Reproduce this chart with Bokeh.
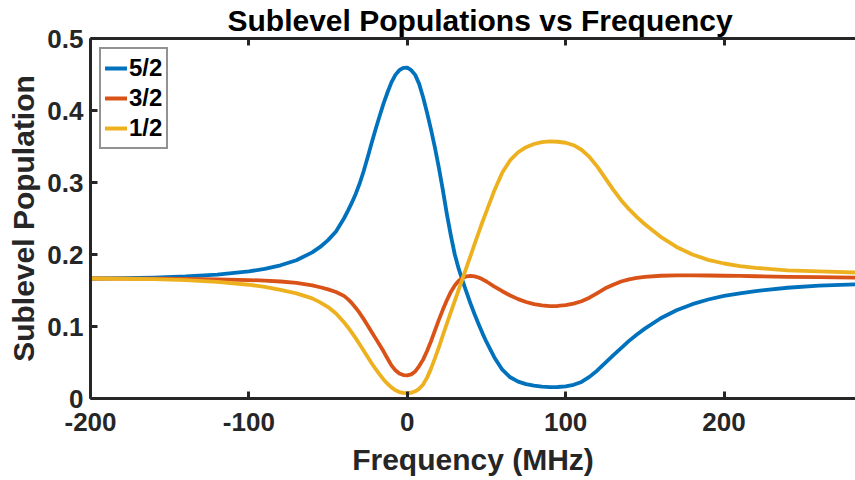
from bokeh.plotting import figure
from bokeh.models import (LinearAxis, Legend, LegendItem, FixedTicker, Title,
                          CustomLabelingPolicy)
from bokeh.embed import file_html
from bokeh.resources import INLINE

# ---- data ----
freq = [-200, -180, -160, -140, -120, -100, -90, -80, -70, -60, -55, -50, -45,
        -40, -37.5, -35, -32.5, -30, -27.5, -25, -22.5, -20, -17.5, -15, -12.5, -10,
        -7.5, -5, -2.5, 0, 2.5, 5, 7.5, 10, 12.5, 15, 17.5, 20, 22.5, 25, 27.5, 30,
        32.5, 35, 37.5, 40, 42.5, 45, 47.5, 50,
        55, 60, 65, 70, 75, 80, 85, 90, 95, 100, 105, 110, 115, 120, 125, 130, 135,
        140, 145, 150,
        160, 170, 180, 190, 200, 210, 220, 240, 260, 283]

pop_52 = [0.1667, 0.1672, 0.1680, 0.1695, 0.1720, 0.1765, 0.1800, 0.1850, 0.1920, 0.2030,
          0.2105, 0.2200, 0.2320,
          0.2500, 0.2605, 0.2720, 0.2845, 0.2990, 0.3160, 0.3350, 0.3550, 0.3740, 0.3920,
          0.4095, 0.4250, 0.4390, 0.4495, 0.4560, 0.4593, 0.4595, 0.4560, 0.4495, 0.4370,
          0.4185, 0.3970, 0.3735, 0.3480, 0.3200, 0.2890, 0.2560, 0.2265, 0.2000, 0.1800,
          0.1630, 0.1470, 0.1315, 0.1170, 0.1035, 0.0905, 0.0785,
          0.0570, 0.0400, 0.0295, 0.0235, 0.0200, 0.0180, 0.0165, 0.0158, 0.0160, 0.0168,
          0.0190, 0.0230, 0.0300, 0.0390, 0.0495, 0.0600, 0.0700, 0.0800, 0.0890, 0.0970,
          0.1115, 0.1225, 0.1310, 0.1375, 0.1425, 0.1460, 0.1492, 0.1538, 0.1568, 0.1585]

pop_32 = [0.1667, 0.1665, 0.1663, 0.1660, 0.1655, 0.1645, 0.1638, 0.1625, 0.1605, 0.1570,
          0.1545, 0.1515, 0.1480,
          0.1425, 0.1380, 0.1325, 0.1258, 0.1185, 0.1102, 0.1015, 0.0925, 0.0835, 0.0745,
          0.0655, 0.0555, 0.0460, 0.0393, 0.0348, 0.0325, 0.0322, 0.0335, 0.0375, 0.0450,
          0.0540, 0.0660, 0.0795, 0.0945, 0.1095, 0.1235, 0.1365, 0.1480, 0.1570, 0.1635,
          0.1675, 0.1697, 0.1703, 0.1697, 0.1680, 0.1655, 0.1625,
          0.1555, 0.1490, 0.1430, 0.1380, 0.1340, 0.1310, 0.1292, 0.1283, 0.1285, 0.1297,
          0.1318, 0.1350, 0.1400, 0.1465, 0.1530, 0.1580, 0.1625, 0.1655, 0.1675, 0.1690,
          0.1705, 0.1710, 0.1710, 0.1708, 0.1705, 0.1702, 0.1698, 0.1690, 0.1685, 0.1680]

pop_12 = [0.1667, 0.1663, 0.1657, 0.1645, 0.1620, 0.1580, 0.1550, 0.1510, 0.1460, 0.1390,
          0.1335, 0.1270, 0.1180,
          0.1060, 0.0990, 0.0915, 0.0835, 0.0750, 0.0663, 0.0575, 0.0490, 0.0410, 0.0335,
          0.0265, 0.0205, 0.0155, 0.0115, 0.0090, 0.0078, 0.0074, 0.0080, 0.0100, 0.0135,
          0.0195, 0.0290, 0.0415, 0.0560, 0.0715, 0.0880, 0.1040, 0.1200, 0.1355, 0.1512,
          0.1670, 0.1828, 0.1985, 0.2143, 0.2300, 0.2455, 0.2600,
          0.2890, 0.3140, 0.3310, 0.3420, 0.3490, 0.3535, 0.3560, 0.3570, 0.3566, 0.3552,
          0.3518, 0.3455, 0.3355, 0.3220, 0.3060, 0.2900, 0.2755, 0.2630, 0.2520, 0.2420,
          0.2245, 0.2105, 0.2000, 0.1925, 0.1875, 0.1840, 0.1815, 0.1780, 0.1765, 0.1750]

series_names = ["5/2", "3/2", "1/2"]
series_colors = ["#0072BD", "#D95319", "#EDB120"]

x_ticks = [-200, -100, 0, 100, 200]
x_tick_labels = {-200: "-200", -100: "-100", 0: "0", 100: "100", 200: "200"}
y_ticks = [0, 0.1, 0.2, 0.3, 0.4, 0.5]
y_tick_labels = {0: "0", 0.1: "0.1", 0.2: "0.2", 0.3: "0.3", 0.4: "0.4", 0.5: "0.5"}

FONT = "Liberation Sans"
AX = "#262626"

p = figure(width=855, height=480, x_range=(-200, 283), y_range=(0, 0.5),
           output_backend="svg", toolbar_location=None,
           min_border_left=90, min_border_right=0, min_border_top=38, min_border_bottom=82,
           x_axis_location=None, y_axis_location=None, title=None)
p.outline_line_color = None
p.xgrid.visible = False
p.ygrid.visible = False
p.background_fill_color = "white"
p.border_fill_color = "white"

renderers = []
for vals, col in zip([pop_52, pop_32, pop_12], series_colors):
    r = p.line(freq, vals, line_color=col, line_width=3.8, line_join="round", line_cap="round")
    renderers.append(r)

def style_axis(ax):
    ax.axis_line_color = AX
    ax.axis_line_width = 3
    ax.major_tick_line_color = AX
    ax.major_tick_line_width = 3
    ax.major_tick_in = 7
    ax.major_tick_out = 0
    ax.minor_tick_line_color = None
    ax.major_label_text_font = FONT
    ax.major_label_text_font_style = "bold"
    ax.major_label_text_font_size = "26px"
    ax.major_label_text_color = AX
    ax.axis_label_text_font = FONT
    ax.axis_label_text_font_style = "bold"
    ax.axis_label_text_font_size = "30px"
    ax.axis_label_text_color = AX

xax = LinearAxis(ticker=FixedTicker(ticks=x_ticks), axis_label="Frequency (MHz)")
style_axis(xax)
xax.major_label_overrides = x_tick_labels
xax.major_label_standoff = 14
xax.axis_label_standoff = 9
p.add_layout(xax, "below")

yax = LinearAxis(ticker=FixedTicker(ticks=y_ticks), axis_label="Sublevel Population")
style_axis(yax)
yax.major_label_overrides = y_tick_labels
yax.major_label_standoff = 7
yax.axis_label_standoff = 4
p.add_layout(yax, "left")

# top box edge with inward ticks, no labels
tax = LinearAxis(ticker=FixedTicker(ticks=x_ticks))
style_axis(tax)
tax.major_label_text_font_size = "0px"
tax.major_label_standoff = 0
tax.major_label_policy = CustomLabelingPolicy(
    code="for (const i of indices) { indices.unset(i) }\nreturn indices")
p.add_layout(tax, "above")

title = Title(text="Sublevel Populations vs Frequency", align="left", vertical_align="top",
              text_font=FONT, text_font_style="bold", text_font_size="30px",
              text_line_height=0.8, text_color="black", standoff=0, offset=137)
p.add_layout(title, "above")

legend = Legend(items=[LegendItem(label=n, renderers=[r]) for n, r in zip(series_names, renderers)],
                location="top_left")
legend.label_text_font = FONT
legend.label_text_font_style = "bold"
legend.label_text_font_size = "24px"
legend.label_text_color = "black"
legend.border_line_color = AX
legend.border_line_width = 2
legend.background_fill_color = "white"
legend.padding = 4
legend.spacing = 0
legend.margin = 9
legend.glyph_width = 22
legend.glyph_height = 30
legend.label_height = 30
legend.label_standoff = 2
p.add_layout(legend)

open("out.html", "w").write(file_html(p, INLINE))
